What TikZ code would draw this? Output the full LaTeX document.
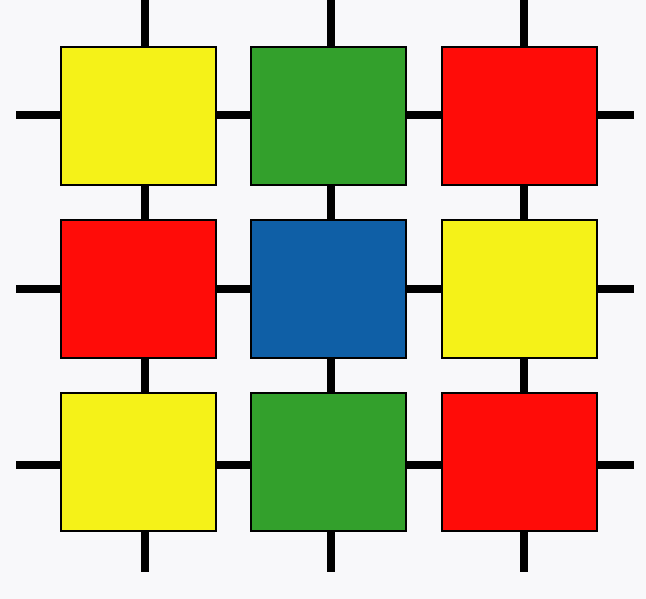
\documentclass[tikz,border=0pt]{standalone}
\usepackage{xcolor}
\usepackage{tikz}
\usetikzlibrary{positioning}
\definecolor{tileyellow}{RGB}{245,242,24}
\definecolor{tilegreen}{RGB}{51,160,44}
\definecolor{tilered}{RGB}{255,12,8}
\definecolor{tileblue}{RGB}{15,95,166}
\definecolor{bggrey}{RGB}{248,248,250}

\begin{document}
\begin{tikzpicture}[x=1pt,y=-1pt,
    tile/.style={draw=black,line width=2pt,minimum width=155pt,minimum height=138pt,inner sep=0pt,outer sep=0pt},
    bar/.style={black,line width=8pt}]
  % page and background
  \fill[bggrey] (0,0) rectangle (646,599);
  \useasboundingbox (0,0) rectangle (646,599);
  % free ends of the bars
  \coordinate (top1) at (145,0);     \coordinate (bot1) at (145,571.5);
  \coordinate (top2) at (330.5,0);   \coordinate (bot2) at (330.5,571.5);
  \coordinate (top3) at (523.5,0);   \coordinate (bot3) at (523.5,571.5);
  \coordinate (left1) at (16,115.5); \coordinate (right1) at (634,115.5);
  \coordinate (left2) at (16,288.5); \coordinate (right2) at (634,288.5);
  \coordinate (left3) at (16,465);   \coordinate (right3) at (634,465);
  % bars (behind the tiles)
  \draw[bar] (top1) -- (bot1);
  \draw[bar] (top2) -- (bot2);
  \draw[bar] (top3) -- (bot3);
  \draw[bar] (left1) -- (right1);
  \draw[bar] (left2) -- (right2);
  \draw[bar] (left3) -- (right3);
  % row 1
  \node[tile,fill=tileyellow] (r1c1) at (138.5,116) {};
  \node[tile,fill=tilegreen]  (r1c2) at (328.5,116) {};
  \node[tile,fill=tilered]    (r1c3) at (519,116) {};
  % row 2
  \node[tile,fill=tilered]    (r2c1) at (138.5,289) {};
  \node[tile,fill=tileblue]   (r2c2) at (328.5,289) {};
  \node[tile,fill=tileyellow] (r2c3) at (519,289) {};
  % row 3
  \node[tile,fill=tileyellow] (r3c1) at (138.5,462) {};
  \node[tile,fill=tilegreen]  (r3c2) at (328.5,462) {};
  \node[tile,fill=tilered]    (r3c3) at (519,462) {};
\end{tikzpicture}
\end{document}
